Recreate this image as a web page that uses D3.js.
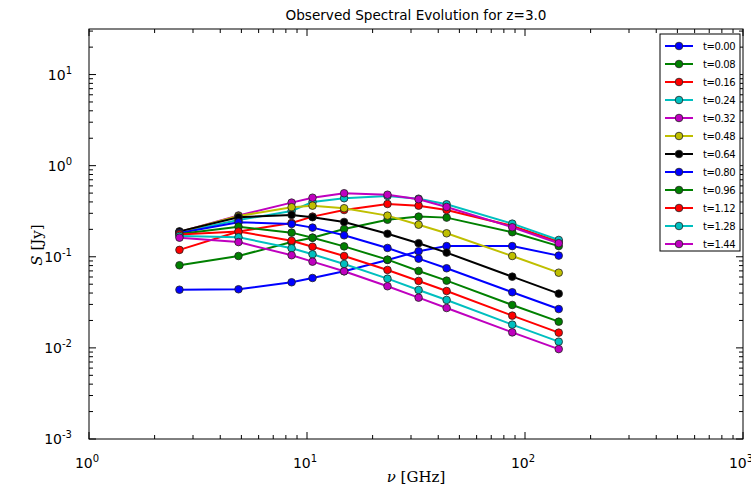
<!DOCTYPE html>
<html>
<head>
<meta charset="utf-8">
<script src="https://cdn.jsdelivr.net/npm/d3@7"></script>
<style>
  body { margin: 0; background: #fff; }
  svg { display: block; }
</style>
</head>
<body>
<div id="chart"></div>
<script>
// observed frequencies in GHz
const freqs = [2.6, 4.85, 8.5, 10.6, 14.8, 23.4, 32.5, 43.7, 87.4, 142.8];

const times = ["0.00", "0.08", "0.16", "0.24", "0.32", "0.48", "0.64", "0.80", "0.96", "1.12", "1.28", "1.44"];
const colors = ["#0000ff", "#008000", "#ff0000", "#00bfbf", "#bf00bf", "#bfbf00", "#000000",
                "#0000ff", "#008000", "#ff0000", "#00bfbf", "#bf00bf"];

// flux density in Jy, one row per epoch
const s000 = [0.0435, 0.044, 0.0525, 0.0585, 0.0693, 0.0923, 0.115, 0.131, 0.131, 0.103];
const s008 = [0.0807, 0.102, 0.145, 0.162, 0.202, 0.255, 0.276, 0.269, 0.186, 0.131];
const s016 = [0.119, 0.189, 0.235, 0.276, 0.326, 0.380, 0.364, 0.326, 0.218, 0.146];
const s024 = [0.185, 0.253, 0.318, 0.400, 0.439, 0.465, 0.434, 0.377, 0.231, 0.153];
const s032 = [0.187, 0.284, 0.393, 0.445, 0.498, 0.480, 0.428, 0.352, 0.211, 0.141];
const s048 = [0.187, 0.280, 0.350, 0.364, 0.341, 0.283, 0.225, 0.181, 0.102, 0.0669];
const s064 = [0.190, 0.272, 0.288, 0.272, 0.241, 0.179, 0.141, 0.111, 0.0605, 0.0394];
const s080 = [0.182, 0.239, 0.229, 0.209, 0.172, 0.125, 0.0954, 0.0748, 0.0408, 0.0267];
const s096 = [0.178, 0.214, 0.184, 0.162, 0.130, 0.0930, 0.0699, 0.0547, 0.0296, 0.0194];
const s112 = [0.176, 0.189, 0.150, 0.129, 0.102, 0.0717, 0.0543, 0.0421, 0.0226, 0.0147];
const s128 = [0.169, 0.164, 0.124, 0.1065, 0.0834, 0.0575, 0.0432, 0.0336, 0.0180, 0.0117];
const s144 = [0.162, 0.145, 0.104, 0.0884, 0.0693, 0.0475, 0.0356, 0.0274, 0.0148, 0.0097];
const fluxes = [s000, s008, s016, s024, s032, s048, s064, s080, s096, s112, s128, s144];

const xTicks = [1, 10, 100, 1000];
const yTicks = [1e-3, 1e-2, 1e-1, 1, 10];

const W = 751, H = 485;
const pLeft = 89, pRight = 743, pTop = 29, pBottom = 439;

const svg = d3.select("#chart").append("svg")
    .attr("width", W)
    .attr("height", H)
    .style("font-family", "DejaVu Sans, sans-serif");

const x = d3.scaleLog().domain([1, 1000]).range([pLeft, pRight]);
const y = d3.scaleLog().domain([1e-3, Math.pow(10, 1.5)]).range([pBottom, pTop]);

// minor tick positions
function minors(lo, hi) {
    let out = [];
    for (let e = lo; e < hi; e++) {
        for (let k = 2; k <= 9; k++) out.push(k * Math.pow(10, e));
    }
    return out;
}
const xMinor = minors(0, 3);
const yMinor = minors(-3, 2).filter(v => v <= Math.pow(10, 1.5));

const MAJ = 7, MIN = 4;
const ticks = svg.append("g").attr("stroke", "#000").attr("stroke-width", 1);

xTicks.forEach(v => {
    ticks.append("line").attr("x1", x(v)).attr("x2", x(v)).attr("y1", pBottom).attr("y2", pBottom - MAJ);
    ticks.append("line").attr("x1", x(v)).attr("x2", x(v)).attr("y1", pTop).attr("y2", pTop + MAJ);
});
xMinor.forEach(v => {
    ticks.append("line").attr("x1", x(v)).attr("x2", x(v)).attr("y1", pBottom).attr("y2", pBottom - MIN);
    ticks.append("line").attr("x1", x(v)).attr("x2", x(v)).attr("y1", pTop).attr("y2", pTop + MIN);
});
yTicks.forEach(v => {
    ticks.append("line").attr("y1", y(v)).attr("y2", y(v)).attr("x1", pLeft).attr("x2", pLeft + MAJ);
    ticks.append("line").attr("y1", y(v)).attr("y2", y(v)).attr("x1", pRight).attr("x2", pRight - MAJ);
});
yMinor.forEach(v => {
    ticks.append("line").attr("y1", y(v)).attr("y2", y(v)).attr("x1", pLeft).attr("x2", pLeft + MIN);
    ticks.append("line").attr("y1", y(v)).attr("y2", y(v)).attr("x1", pRight).attr("x2", pRight - MIN);
});

svg.append("rect")
    .attr("x", pLeft).attr("y", pTop)
    .attr("width", pRight - pLeft).attr("height", pBottom - pTop)
    .attr("fill", "none").attr("stroke", "#000").attr("stroke-width", 1);

// tick labels as 10^n
function powLabel(sel, v) {
    const e = Math.round(Math.log10(v));
    sel.append("tspan").text("10");
    sel.append("tspan").attr("dy", -6).attr("font-size", 10).text(e);
}
xTicks.forEach(v => {
    const t = svg.append("text")
        .attr("x", x(v) - 2).attr("y", 468)
        .attr("text-anchor", "middle")
        .attr("font-size", 14)
        .attr("fill", "#000");
    powLabel(t, v);
});
yTicks.forEach(v => {
    const t = svg.append("text")
        .attr("x", 72).attr("y", y(v) + 5)
        .attr("text-anchor", "end")
        .attr("font-size", 14)
        .attr("fill", "#000");
    powLabel(t, v);
});

svg.append("text")
    .attr("x", (pLeft + pRight) / 2).attr("y", 20)
    .attr("text-anchor", "middle")
    .attr("font-size", 13.6)
    .text("Observed Spectral Evolution for z=3.0");

const xl = svg.append("text")
    .attr("x", (pLeft + pRight) / 2).attr("y", 482)
    .attr("text-anchor", "middle")
    .attr("font-family", "DejaVu Serif, serif")
    .attr("font-size", 15);
xl.append("tspan").attr("font-style", "italic").text("ν");
xl.append("tspan").text(" [GHz]");

const yl = svg.append("text")
    .attr("transform", "translate(42,245) rotate(-90)")
    .attr("text-anchor", "middle")
    .attr("font-family", "DejaVu Serif, serif")
    .attr("font-size", 15);
yl.append("tspan").attr("font-style", "italic").text("S");
yl.append("tspan").text(" [Jy]");

// series
const line = d3.line().x(d => x(d[0])).y(d => y(d[1]));
const plot = svg.append("g");

fluxes.forEach((vals, i) => {
    const pts = freqs.map((f, j) => [f, vals[j]]);
    const g = plot.append("g");
    g.append("path")
        .attr("d", line(pts))
        .attr("fill", "none")
        .attr("stroke", colors[i])
        .attr("stroke-width", 2);
    g.selectAll("circle").data(pts).join("circle")
        .attr("cx", d => x(d[0]))
        .attr("cy", d => y(d[1]))
        .attr("r", 3.8)
        .attr("fill", colors[i])
        .attr("stroke", "#222")
        .attr("stroke-width", 0.8);
});

// legend
const lg = svg.append("g");
lg.append("rect")
    .attr("x", 660).attr("y", 34)
    .attr("width", 80).attr("height", 217)
    .attr("fill", "#fff").attr("stroke", "#000").attr("stroke-width", 1);

times.forEach((t, i) => {
    const ly = 46 + i * 18;
    lg.append("line")
        .attr("x1", 665).attr("x2", 693)
        .attr("y1", ly).attr("y2", ly)
        .attr("stroke", colors[i]).attr("stroke-width", 2);
    lg.append("circle")
        .attr("cx", 679).attr("cy", ly).attr("r", 3.8)
        .attr("fill", colors[i]).attr("stroke", "#222").attr("stroke-width", 0.8);
    lg.append("text")
        .attr("x", 703).attr("y", ly + 3.5)
        .attr("font-size", 10)
        .attr("letter-spacing", -0.4)
        .text("t=" + t);
});
</script>
</body>
</html>
